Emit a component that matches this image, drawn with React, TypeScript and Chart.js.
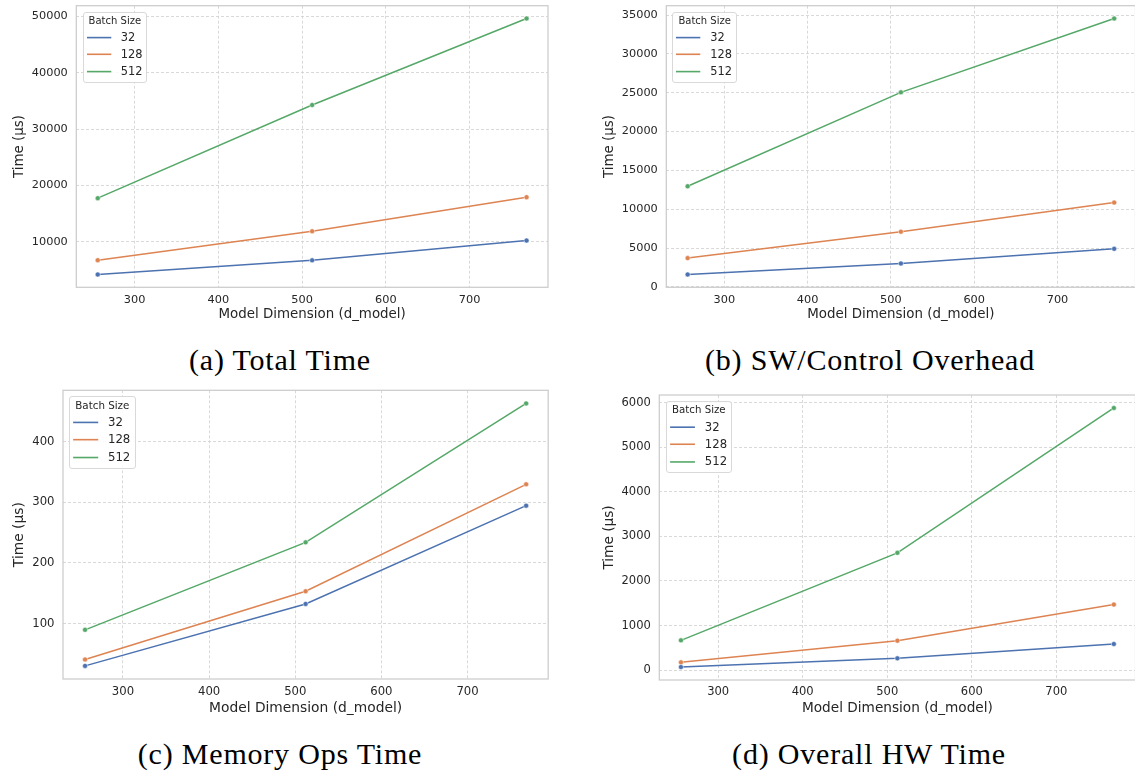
import React, { useEffect, useRef } from 'react';
import { Chart, registerables } from 'chart.js';

Chart.register(...registerables);

// ---------------- data ----------------
const dModel = [256, 512, 768];
const batchSizes = ['32', '128', '512'];

const total32 = [4160, 6680, 10180];
const total128 = [6700, 11840, 17900];
const total512 = [17720, 34270, 49640];

const sw32 = [1590, 3010, 4900];
const sw128 = [3700, 7100, 10850];
const sw512 = [12950, 25050, 34560];

const mem32 = [30.2, 132.4, 294.5];
const mem128 = [40.7, 153.3, 329.7];
const mem512 = [89.6, 234, 463.2];

const hw32 = [67, 262, 585];
const hw128 = [172, 660, 1470];
const hw512 = [667, 2632, 5887];

const xTicks = [300, 400, 500, 600, 700];
const totalTicks = [10000, 20000, 30000, 40000, 50000];
const swTicks = [0, 5000, 10000, 15000, 20000, 25000, 30000, 35000];
const memTicks = [100, 200, 300, 400];
const hwTicks = [0, 1000, 2000, 3000, 4000, 5000, 6000];

const captions = ['(a) Total Time', '(b) SW/Control Overhead', '(c) Memory Ops Time', '(d) Overall HW Time'];
const xTitle = 'Model Dimension (d_model)';
const yTitle = 'Time (µs)';
const legendTitle = 'Batch Size';

const colors = ['#4C72B0', '#DD8452', '#55A868'];

// ---------------- layout / style ----------------
type Panel = {
  series: number[][];
  yTicks: number[];
  caption: string;
  cx: number; cy: number; cw: number; ch: number;
  L: number; T: number; R: number; B: number;
  xTickY: number; xTitleY: number; yTitleX: number;
  s: number;
  legend: [number, number, number, number];
  capX: number; capBase: number;
};

const panels: Panel[] = [
  {
    series: [total32, total128, total512], yTicks: totalTicks, caption: captions[0],
    cx: 0, cy: 0, cw: 560, ch: 335, L: 76.3, T: 5.7, R: 548, B: 287.3,
    xTickY: 300.3, xTitleY: 315, yTitleX: 19.5, s: 1.0,
    legend: [82.7, 11.7, 64.3, 71], capX: 280, capBase: 370.5,
  },
  {
    series: [sw32, sw128, sw512], yTicks: swTicks, caption: captions[1],
    cx: 580, cy: 0, cw: 560, ch: 335, L: 666.3, T: 5.7, R: 1137.7, B: 287.3,
    xTickY: 300, xTitleY: 315, yTitleX: 609.4, s: 1.0,
    legend: [672.3, 11.7, 64.7, 71], capX: 870, capBase: 370.5,
  },
  {
    series: [mem32, mem128, mem512], yTicks: memTicks, caption: captions[2],
    cx: 0, cy: 380, cw: 560, ch: 340, L: 63, T: 390.3, R: 548.2, B: 679,
    xTickY: 692.3, xTitleY: 708.3, yTitleX: 19.5, s: 1.032,
    legend: [68.7, 396, 67.3, 73.3], capX: 280, capBase: 764,
  },
  {
    series: [hw32, hw128, hw512], yTicks: hwTicks, caption: captions[3],
    cx: 580, cy: 380, cw: 560, ch: 340, L: 659.3, T: 395, R: 1138.2, B: 680,
    xTickY: 692.3, xTitleY: 708.3, yTitleX: 609.4, s: 1.02,
    legend: [666, 400.7, 65.7, 72.6], capX: 869, capBase: 764,
  },
];

const FONT = "'DejaVu Sans', sans-serif";
const TEXT = '#262626';
const GRID = '#cfcfcf';
const FRAME = '#cccccc';

const framePlugin = {
  id: 'frame',
  beforeDatasetsDraw(chart: any) {
    const { ctx, chartArea } = chart;
    const { left, top, right, bottom } = chartArea;
    ctx.save();
    ctx.strokeStyle = FRAME;
    ctx.lineWidth = 1.25;
    ctx.strokeRect(left, top, right - left, bottom - top);
    ctx.restore();
  },
};

function pad(min: number, max: number) {
  const m = (max - min) * 0.05;
  return [min - m, max + m];
}

function PanelChart({ p }: { p: Panel }) {
  const ref = useRef<HTMLCanvasElement | null>(null);

  useEffect(() => {
    if (!ref.current) return;
    const s = p.s;
    const tickSize = 11.3 * s;
    const titleSize = 13.4 * s;
    const tickLH = tickSize * 1.2;
    const titleLH = titleSize * 1.2;

    const yW = p.L - p.cx;
    const padT = p.T - p.cy;
    const padR = p.cx + p.cw - p.R;
    const Bc = p.B - p.cy;
    const xH = p.ch - Bc;
    const xTickPad = p.xTickY - p.B - tickLH / 2;
    const xTitlePadB = p.ch - (p.xTitleY - p.cy) - titleLH / 2;
    const yTitlePadT = p.yTitleX - p.cx - titleLH / 2;

    const all = p.series.flat();
    const [xmin, xmax] = pad(Math.min(...dModel), Math.max(...dModel));
    const [ymin, ymax] = pad(Math.min(...all), Math.max(...all));

    const chart = new Chart(ref.current, {
      type: 'line',
      data: {
        datasets: p.series.map((vals, i) => ({
          label: batchSizes[i],
          data: dModel.map((x, j) => ({ x, y: vals[j] })),
          borderColor: colors[i],
          backgroundColor: colors[i],
          borderWidth: 1.5,
          pointRadius: 2.5,
          pointBorderWidth: 0.5,
          pointBorderColor: '#ffffff',
          pointBackgroundColor: colors[i],
          tension: 0,
          fill: false,
        })),
      },
      options: {
        animation: false,
        responsive: false,
        maintainAspectRatio: false,
        devicePixelRatio: 1,
        events: [],
        layout: { padding: { left: 0, top: padT, right: padR, bottom: 0 } },
        plugins: { legend: { display: false }, tooltip: { enabled: false } },
        scales: {
          x: {
            type: 'linear',
            min: xmin,
            max: xmax,
            afterBuildTicks: (sc: any) => { sc.ticks = xTicks.map((v) => ({ value: v })); },
            afterFit: (sc: any) => { sc.height = xH; sc.paddingLeft = 0; sc.paddingRight = 0; },
            grid: { color: GRID, lineWidth: 0.8, drawTicks: false },
            border: { display: false, dash: [3, 2] },
            ticks: {
              autoSkip: false, maxRotation: 0, padding: xTickPad, color: TEXT,
              font: { family: FONT, size: tickSize },
              callback: (v: any) => String(v),
            },
            title: {
              display: true, text: xTitle, color: TEXT,
              font: { family: FONT, size: titleSize },
              padding: { top: 0, bottom: xTitlePadB },
            },
          },
          y: {
            type: 'linear',
            min: ymin,
            max: ymax,
            afterBuildTicks: (sc: any) => { sc.ticks = p.yTicks.map((v) => ({ value: v })); },
            afterFit: (sc: any) => { sc.width = yW; sc.paddingTop = 0; sc.paddingBottom = 0; },
            grid: { color: GRID, lineWidth: 0.8, drawTicks: false },
            border: { display: false, dash: [3, 2] },
            ticks: {
              autoSkip: false, padding: 8.5, color: TEXT,
              font: { family: FONT, size: tickSize },
              callback: (v: any) => String(v),
            },
            title: {
              display: true, text: yTitle, color: TEXT,
              font: { family: FONT, size: titleSize },
              padding: { top: yTitlePadT, bottom: 0 },
            },
          },
        },
      } as any,
      plugins: [framePlugin],
    });
    return () => chart.destroy();
  }, [p]);

  const [lx, ly, lw, lh] = p.legend;
  const s = lh / 71;
  const rows = [25.6, 42.3, 59.6];

  return (
    <>
      <canvas
        ref={ref}
        width={p.cw}
        height={p.ch}
        style={{ position: 'absolute', left: p.cx, top: p.cy, width: p.cw, height: p.ch }}
      />
      <div
        style={{
          position: 'absolute', left: lx, top: ly, width: lw, height: lh,
          boxSizing: 'border-box', border: '1px solid #d9d9d9', borderRadius: 3,
          background: 'rgba(255,255,255,0.85)', fontFamily: FONT, color: TEXT,
        }}
      >
        <div
          style={{
            position: 'absolute', left: 0, right: 0, top: 9 * s - 6 * s - 1,
            lineHeight: `${12 * s}px`, fontSize: 10 * s, textAlign: 'center', whiteSpace: 'nowrap',
          }}
        >
          {legendTitle}
        </div>
        <svg
          width={lw}
          height={lh}
          style={{ position: 'absolute', left: -1, top: -1, overflow: 'visible' }}
        >
          {batchSizes.map((b, i) => (
            <line
              key={b}
              x1={4 * s}
              x2={28.3 * s}
              y1={rows[i] * s}
              y2={rows[i] * s}
              stroke={colors[i]}
              strokeWidth={1.6}
            />
          ))}
        </svg>
        {batchSizes.map((b, i) => (
          <div
            key={b}
            style={{
              position: 'absolute', left: 38 * s - 1, top: rows[i] * s - 1 - 7 * s,
              lineHeight: `${14 * s}px`, fontSize: 11.4 * s, whiteSpace: 'nowrap',
            }}
          >
            {b}
          </div>
        ))}
      </div>
      <div
        style={{
          position: 'absolute', left: p.capX, top: p.capBase - 25.1,
          transform: 'translateX(-50%)', whiteSpace: 'nowrap',
          fontFamily: "'Liberation Serif', serif", fontSize: 30, lineHeight: '30px',
          letterSpacing: 0.8, color: '#000',
        }}
      >
        {p.caption}
      </div>
    </>
  );
}

export default function App() {
  return (
    <div
      style={{
        position: 'fixed', left: 0, top: 0, width: 1135, height: 771,
        overflow: 'hidden', background: '#ffffff',
      }}
    >
      {panels.map((p, i) => (
        <PanelChart key={i} p={p} />
      ))}
    </div>
  );
}
